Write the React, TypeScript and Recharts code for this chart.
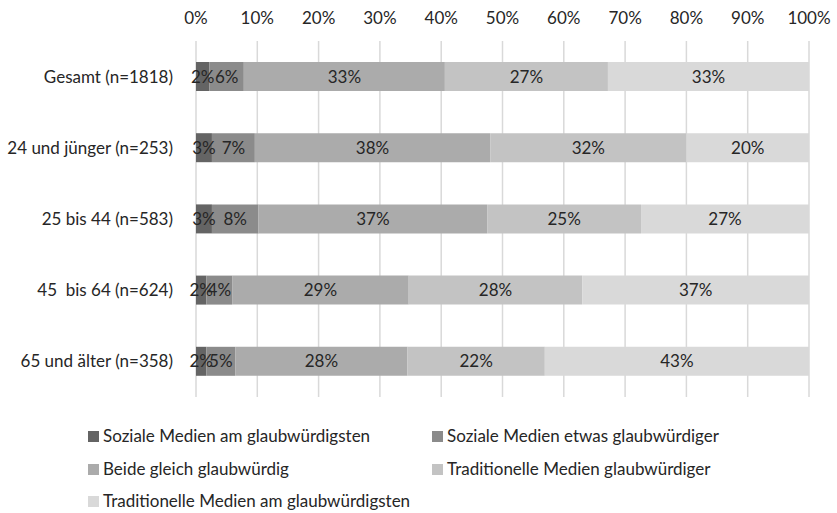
import React from 'react';
import { BarChart, Bar, XAxis, YAxis, CartesianGrid, LabelList, Legend } from 'recharts';

const categories = [
  'Gesamt (n=1818)',
  '24 und jünger (n=253)',
  '25 bis 44 (n=583)',
  '45  bis 64 (n=624)',
  '65 und älter (n=358)',
];
const sozialeAm = [2.2, 2.6, 2.6, 1.7, 1.7];
const sozialeEtwas = [5.6, 7.0, 7.6, 4.2, 4.7];
const beide = [32.8, 38.4, 37.3, 28.8, 28.1];
const tradGlaub = [26.6, 32.0, 25.1, 28.3, 22.4];
const tradAm = [32.8, 20.0, 27.4, 37.0, 43.1];
const xTicks = [0, 10, 20, 30, 40, 50, 60, 70, 80, 90, 100];

const seriesNames = [
  'Soziale Medien am glaubwürdigsten',
  'Soziale Medien etwas glaubwürdiger',
  'Beide gleich glaubwürdig',
  'Traditionelle Medien glaubwürdiger',
  'Traditionelle Medien am glaubwürdigsten',
];
const seriesKeys = ['s1', 's2', 's3', 's4', 's5'];
const seriesValues = [sozialeAm, sozialeEtwas, beide, tradGlaub, tradAm];
const colors = ['#646464', '#8b8b8b', '#ababab', '#c3c3c3', '#d9d9d9'];

const data = categories.map((name, i) => {
  const row: any = { name };
  seriesKeys.forEach((k, j) => {
    row[k] = seriesValues[j][i];
  });
  return row;
});

const FONT = 'Lato, "Open Sans", sans-serif';
const TEXT = '#262626';
const FS = 17;

const LegendContent = (props: any) => {
  const payload = [...(props.payload || [])].sort(
    (a: any, b: any) => seriesNames.indexOf(a.value) - seriesNames.indexOf(b.value)
  );
  const positions = [
    { left: 88, top: 436 },
    { left: 432, top: 436 },
    { left: 88, top: 469 },
    { left: 432, top: 469 },
    { left: 88, top: 501 },
  ];
  return (
    <div style={{ position: 'relative', width: 837, height: 93 }}>
      {payload.map((p: any, i: number) => (
        <div
          key={i}
          style={{
            position: 'absolute',
            left: positions[i].left,
            top: positions[i].top - 420 - 11,
            display: 'flex',
            alignItems: 'center',
            fontFamily: FONT,
            fontSize: FS,
            color: TEXT,
            whiteSpace: 'nowrap',
            height: 22,
            lineHeight: '22px',
          }}
        >
          <span style={{ display: 'inline-block', width: 11, height: 11, background: p.color, marginRight: 4 }} />
          <span>{p.value}</span>
        </div>
      ))}
    </div>
  );
};

export default function App() {
  return (
    <div style={{ position: 'absolute', left: 0, top: 0, background: '#fff' }}>
      <BarChart
        width={837}
        height={513}
        data={data}
        layout="vertical"
        margin={{ top: 0, right: 28, left: 0, bottom: 116 }}
        barSize={29}
      >
        <CartesianGrid horizontal={false} stroke="#d9d9d9" strokeWidth={1.5} />
        <XAxis
          type="number"
          orientation="top"
          domain={[0, 100]}
          ticks={xTicks}
          tickFormatter={(v: number) => `${v}%`}
          axisLine={false}
          tickLine={false}
          height={41}
          interval={0}
          tick={{ fill: TEXT, fontSize: FS, fontFamily: FONT, dy: -9 }}
        />
        <YAxis
          type="category"
          dataKey="name"
          width={196}
          axisLine={false}
          tickLine={false}
          tickMargin={17}
          interval={0}
          tickFormatter={(v: string) => v.replace(/  /g, '\u00a0 ')}
          tick={{ fill: TEXT, fontSize: FS, fontFamily: FONT }}
        />
        <Legend
          layout="horizontal"
          verticalAlign="middle"
          align="center"
          wrapperStyle={{ top: 420, left: 0, width: 837, height: 93 }}
          content={<LegendContent />}
        />
        {seriesKeys.map((k, j) => (
          <Bar key={k} dataKey={k} name={seriesNames[j]} stackId="a" fill={colors[j]} isAnimationActive={false}>
            <LabelList
              dataKey={k}
              position="center"
              formatter={(v: any) => `${Math.round(Number(v))}%`}
              style={{ fill: TEXT, fontSize: FS, fontFamily: FONT }}
            />
          </Bar>
        ))}
      </BarChart>
    </div>
  );
}
